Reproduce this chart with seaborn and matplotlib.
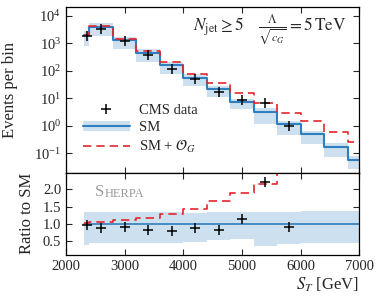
import matplotlib.pyplot as plt
import matplotlib.lines as mlines
import matplotlib.patches as mpatches
from matplotlib.ticker import NullLocator, FixedLocator
import seaborn as sns
import numpy as np

sns.set_theme(style="ticks")
plt.rcParams['font.family'] = ['Liberation Serif', 'DejaVu Serif']
plt.rcParams['mathtext.fontset'] = 'stix'
plt.rcParams.update({
    'font.size': 10.5,
    'xtick.direction': 'in', 'ytick.direction': 'in',
    'xtick.top': True, 'ytick.right': True,
    'xtick.major.size': 4, 'ytick.major.size': 4,
    'xtick.major.width': 0.8, 'ytick.major.width': 0.8,
    'xtick.labelsize': 10.5, 'ytick.labelsize': 10.5,
    'axes.linewidth': 0.9, 'axes.edgecolor': 'black',
})

# binned S_T distribution (GeV)
edges = [2300, 2400, 2800, 3200, 3600, 4000, 4400, 4800, 5200, 5600, 6000, 6400, 6800, 7000]
sm = [2000, 4000, 1300, 450, 160, 56, 21, 7.3, 3.2, 1.15, 0.49, 0.17, 0.06]
sm_og = [2050, 4350, 1400, 530, 200, 78, 35, 15, 7.0, 2.9, 1.48, 0.6, 0.27]
band_lo = [0.40, 0.46, 0.46, 0.46, 0.46, 0.48, 0.52, 0.56, 0.36, 0.42, 0.45, 0.45, 0.45]
band_hi = [1.34, 1.33, 1.33, 1.33, 1.33, 1.32, 1.33, 1.33, 1.34, 1.35, 1.36, 1.38, 1.38]
ratio_og = [1.02, 1.05, 1.10, 1.17, 1.30, 1.43, 1.67, 1.89, 2.15, 2.6, 3.0, 3.5, 4.5]

# CMS data
data_x = [2350, 2600, 3000, 3400, 3800, 4200, 4600, 5000, 5400, 5800]
data_y = [1800, 3300, 1200, 370, 120, 52, 17, 8.5, 7.0, 1.0]
data_ratio = [0.98, 0.89, 0.91, 0.83, 0.80, 0.89, 0.82, 1.14, 2.21, 0.91]

blue = '#2f7ec0'
band = '#cde0ef'
red = '#e3262c'
dash = (0, (5, 3))

centers = [(a + b) / 2 for a, b in zip(edges[:-1], edges[1:])]
sm = np.array(sm)
lo_top = np.append(sm * np.array(band_lo), sm[-1] * band_lo[-1])
hi_top = np.append(sm * np.array(band_hi), sm[-1] * band_hi[-1])

fig = plt.figure(figsize=(3.82, 3.06), dpi=100)
ax = fig.add_axes([0.1728, 0.4356, 0.7678, 0.5405])
axr = fig.add_axes([0.1728, 0.1667, 0.7678, 0.2689], sharex=ax)

# top panel
ax.fill_between(edges, lo_top, hi_top, step='post', color=band, lw=0)
sns.histplot(x=centers, weights=sm, bins=edges, element='step', fill=False,
             color=blue, linewidth=1.5, ax=ax)
sns.histplot(x=centers, weights=sm_og, bins=edges, element='step', fill=False,
             color=red, linewidth=1.2, linestyle=dash, ax=ax)
sns.scatterplot(x=data_x, y=data_y, marker='+', s=45, color='black',
                linewidth=1.1, ax=ax, zorder=5)
ax.set_yscale('log')
ax.set_ylim(0.02, 2e4)
ax.set_xlim(2000, 7000)
ax.yaxis.set_major_locator(FixedLocator([1e-1, 1, 10, 100, 1e3, 1e4]))
ax.yaxis.set_minor_locator(NullLocator())
ax.set_ylabel('Events per bin')
ax.yaxis.set_label_coords(-0.165, 0.5)
ax.tick_params(labelbottom=False)
ax.set_xlabel('')
ax.text(0.955, 0.86, r'$N_\mathrm{jet} \geq 5\quad\;\frac{\Lambda}{\sqrt{c_G}} = 5\,\mathrm{TeV}$',
        transform=ax.transAxes, ha='right', va='center', fontsize=12.3)

h_data = mlines.Line2D([], [], color='black', marker='+', ms=6.5, mew=1.1, ls='none')
h_sm = (mpatches.Patch(color=band, lw=0), mlines.Line2D([], [], color=blue, lw=1.5))
h_og = mlines.Line2D([], [], color=red, lw=1.2, ls=dash)
ax.legend([h_data, h_sm, h_og], ['CMS data', 'SM', r'SM + $\mathcal{O}_G$'],
          loc='upper left', bbox_to_anchor=(0.058, 0.415), frameon=False,
          borderpad=0, borderaxespad=0, handlelength=3.2, handletextpad=0.65,
          labelspacing=0.26, fontsize=10.5)

# ratio panel
lo_r = band_lo + [band_lo[-1]]
hi_r = band_hi + [band_hi[-1]]
axr.fill_between(edges, lo_r, hi_r, step='post', color=band, lw=0)
sns.histplot(x=centers, weights=[1.0] * len(centers), bins=edges, element='step',
             fill=False, color=blue, linewidth=1.2, ax=axr)
sns.histplot(x=centers, weights=ratio_og, bins=edges, element='step', fill=False,
             color=red, linewidth=1.2, linestyle=dash, ax=axr)
sns.scatterplot(x=data_x, y=data_ratio, marker='+', s=45, color='black',
                linewidth=1.1, ax=axr, zorder=5)
axr.set_ylim(0.1, 2.48)
axr.set_xlim(2000, 7000)
axr.set_yticks([0.5, 1.0, 1.5, 2.0])
axr.set_yticklabels(['0.5', '1.0', '1.5', '2.0'])
axr.set_xticks([2000, 3000, 4000, 5000, 6000, 7000])
axr.set_ylabel('Ratio to SM')
axr.yaxis.set_label_coords(-0.105, 0.5)
axr.set_xlabel(r'$S_T$ [GeV]', loc='right', labelpad=2)

s = axr.text(0.099, 0.72, 'S', transform=axr.transAxes, color='#9a9a9a',
             fontsize=12, va='baseline')
axr.annotate('HERPA', xy=(1, 0), xycoords=s, color='#9a9a9a', fontsize=9,
             va='bottom', xytext=(0.6, 0), textcoords='offset points')

fig.savefig('out.png', dpi=100)
